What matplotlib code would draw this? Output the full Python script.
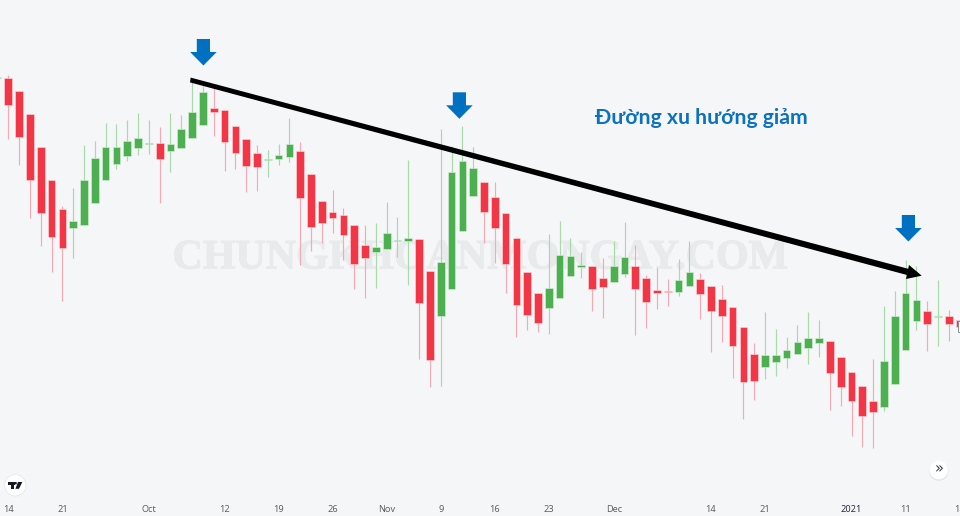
import numpy as np
import matplotlib
matplotlib.use("Agg")
import matplotlib.pyplot as plt
import matplotlib.patheffects as pe
from matplotlib.patches import Polygon, Circle, Rectangle
from matplotlib.transforms import Affine2D

# Price scale is arbitrary (the chart shows no price axis)
opens = [438, 438.3, 424.7, 401.7, 368.7, 335.7, 307.3, 287.7, 291, 313, 335.7, 352, 360, 367.7, 371.9,
         372.7, 364.7, 368, 377.7, 391.3, 407.7, 405.7, 389.7, 376.7, 363.3, 356.2, 356.7, 358.7, 365.3, 341.7,
         315.3, 304.3, 301.3, 291.3, 271.3, 264.3, 267, 275.2, 275, 276.7, 244.7, 200, 227, 285, 320,
         334.3, 318.7, 303.3, 277.7, 244.3, 222.7, 208, 217.7, 239.7, 249.5, 249.7, 238, 233.7, 241.7, 250.3,
         238.3, 226.3, 225, 224, 230, 237, 229.7, 217.3, 208.7, 189.3, 162.3, 148.7, 154.3, 157.7, 162,
         168, 173, 175, 159, 144, 129.7, 115, 109.3, 132, 166, 194.7, 205, 198.8, 199.7, 196]
closes = [439.5, 411.3, 378.7, 335.7, 303, 278.7, 268, 294.7, 335.7, 358.3, 368.7, 368.7, 375.3, 377.7, 372.7,
          356.7, 372.3, 387.3, 404.3, 423.7, 403.7, 373.7, 363, 350, 348.7, 357.2, 361.3, 371.7, 317.7, 288.7,
          293, 298, 280.7, 251.7, 257.7, 269.3, 283.3, 276.2, 278.3, 213, 155.7, 254, 343.7, 355.3, 348.3,
          303.7, 287.7, 252, 210.7, 201, 193, 227.7, 261.3, 259.7, 250.5, 226.7, 229, 250.3, 258.7, 226.7,
          214.3, 223, 224, 235.7, 244.3, 222, 204.7, 200, 169.7, 134.3, 135, 160.7, 160.7, 166, 174,
          178, 177.7, 142.7, 129, 115.3, 100, 103.7, 154.7, 199.7, 223, 216, 192, 199.8, 192.3, 189.3]
highs = [441, 441, 424.7, 401.7, 368.7, 335.7, 310, 327.7, 371.3, 374.7, 392.7, 391.7, 396, 403.3, 396,
         389.3, 402.7, 401, 436, 434, 427.7, 405.7, 389.7, 376.7, 371.3, 365.7, 372, 397.7, 374.3, 341.7,
         315.3, 325.7, 307.7, 291.3, 290.7, 292.7, 314, 298.7, 355.7, 276.7, 244.7, 387.3, 370, 390.3, 369.3,
         334.3, 333.7, 303.3, 277.7, 244.3, 222.7, 281.7, 294.7, 277.7, 264.3, 249.7, 257.7, 275, 293.7, 271,
         241, 247.7, 236.7, 257, 275.3, 242.7, 229.7, 231, 208.7, 189.3, 172.7, 203.7, 187, 178.7, 190.7,
         204.3, 196, 175, 159, 144, 129.7, 156.7, 210, 225, 256, 250, 215, 236, 206, 196.7]
lows = [436, 377, 351, 298.3, 270.3, 244.3, 215.3, 257.7, 291, 313, 335.7, 347.3, 355.3, 361, 361.7,
        313.3, 344.3, 368, 377.7, 391.3, 380.3, 345.3, 347, 323.7, 325.3, 339.3, 351, 353.7, 251, 265.3,
        272.7, 283, 256, 227, 218, 228.3, 267, 259.3, 231, 157, 129.3, 130, 227, 285, 320,
        273.3, 253.3, 222.7, 179.3, 186, 184.3, 182, 217.7, 239.7, 237.7, 205.3, 198, 233.7, 239.3, 181,
        187.7, 207, 210, 220, 230, 197, 164.3, 173.7, 137.7, 97.3, 116, 137, 140, 147.7, 162,
        152, 158.7, 106, 110, 80, 69.3, 67.7, 105.3, 132, 166, 186, 165.3, 170, 174.7, 186]
tick_index = [1, 6, 14, 21, 26, 31, 36, 41, 46, 51, 57, 66, 71, 79, 84, 89]
tick_labels = ["14", "21", "Oct", "12", "19", "26", "Nov", "9", "16", "23", "Dec", "14", "21", "2021", "11", "18"]
title_text = "Đường xu hướng giảm"
watermark = "CHUNGKHOANMONGAY.COM"

BG = "#f5f6f8"
UP, DOWN = "#4caf50", "#f23645"
UP_W, DOWN_W = "#a9d8ab", "#f6a9b4"
BLUE = "#0071c1"

fig = plt.figure(figsize=(9.6, 5.16), dpi=100, facecolor=BG)
ax = fig.add_axes([0, 20 / 516, 1, 496 / 516])
ax.patch.set_visible(False)
ax.set_xlim(0.2294, 89.035)
ax.set_ylim(20, 516)
for s in ax.spines.values():
    s.set_visible(False)

o, c, h, l = map(np.array, (opens, closes, highs, lows))
x = np.arange(len(o))
up = c >= o
body_bottom = np.minimum(o, c)
body_height = np.maximum(np.abs(c - o), 1.2)

ax.vlines(x[up], l[up], h[up], color=UP_W, lw=0.85, zorder=2)
ax.vlines(x[~up], l[~up], h[~up], color=DOWN_W, lw=0.85, zorder=2)
ax.bar(x[up], body_height[up], bottom=body_bottom[up], width=0.71, color=UP,
       edgecolor="#dcefdc", lw=0.4, zorder=3)
ax.bar(x[~up], body_height[~up], bottom=body_bottom[~up], width=0.71, color=DOWN,
       edgecolor="#fbdde0", lw=0.4, zorder=3)

ax.set_xticks(tick_index)
ax.set_xticklabels(tick_labels, fontsize=6.6, color="#5d6066", family="Noto Sans")
ax.tick_params(axis="x", length=0, pad=6.5)
ax.set_yticks([])
for lab, txt in zip(ax.get_xticklabels(), tick_labels):
    if txt == "2021":
        lab.set_fontweight("bold")
        lab.set_color("#2a2e39")

# Overlay drawn in pixel coordinates of the screenshot
px = Affine2D().scale(1, -1).translate(0, 516)


def add(patch):
    patch.set_transform(px)
    fig.add_artist(patch)
    return patch


wm = fig.text(479.5 / 960, 1 - 258.5 / 516, watermark, ha="center", va="center", fontsize=30.2,
              family="Liberation Serif", fontweight="bold", color="#e9eaec",
              path_effects=[pe.withStroke(linewidth=0.8, foreground="#e9eaec")])
wm.set_zorder(-1)

for cx, top in ((203.4, 39), (459.4, 92.3), (908.4, 215)):
    add(Polygon([(cx - 6.6, top), (cx + 6.6, top), (cx + 6.6, top + 13), (cx + 13.3, top + 13),
                 (cx, top + 26.5), (cx - 13.3, top + 13), (cx - 6.6, top + 13)],
                closed=True, fc=BLUE, ec="none", zorder=6))

add(Polygon([(190.7, 77.6), (190.0, 82.4), (907, 275), (909, 269)], closed=True, fc="black", ec="none", zorder=7))
add(Polygon([(921.7, 275.7), (909, 265), (906, 279)], closed=True, fc="black", ec="none", zorder=7))

fig.text(701.5 / 960, 1 - 118 / 516, title_text, ha="center", va="center", fontsize=15.3,
         family="Lato", fontweight="bold", color="#0d72bd", zorder=8)

# TradingView logo badge, scroll button and a sliver of the cursor at the right edge
add(Circle((15.3, 485.3), 10.7, fc="white", ec="#e6e7ea", lw=0.6, zorder=6))
add(Polygon([(8.4, 482), (15, 482), (15, 484.6), (13.6, 484.6), (13.6, 488.8), (11, 488.8), (11, 484.6), (8.4, 484.6)],
            closed=True, fc="#131722", ec="none", zorder=7))
add(Polygon([(18, 482), (22.3, 482), (19, 488.8), (15.4, 488.8)], closed=True, fc="#131722", ec="none", zorder=7))
add(Circle((15.7, 483.2), 1.2, fc="#131722", ec="none", zorder=7))
add(Circle((938.7, 471), 9.8, fc="#e4e5e9", ec="none", zorder=6))
add(Circle((938.7, 470), 9.3, fc="white", ec="none", zorder=6))
add(Rectangle((958.4, 321), 4, 10.5, fc="#f5f6f8", ec="#8a8d92", lw=0.7, zorder=7))
fig.text(938.7 / 960, 1 - 469 / 516, "»", ha="center", va="center", fontsize=10.5, color="#3a3e49",
         family="DejaVu Sans", zorder=8)

fig.savefig("out.png", dpi=100, facecolor=BG)
